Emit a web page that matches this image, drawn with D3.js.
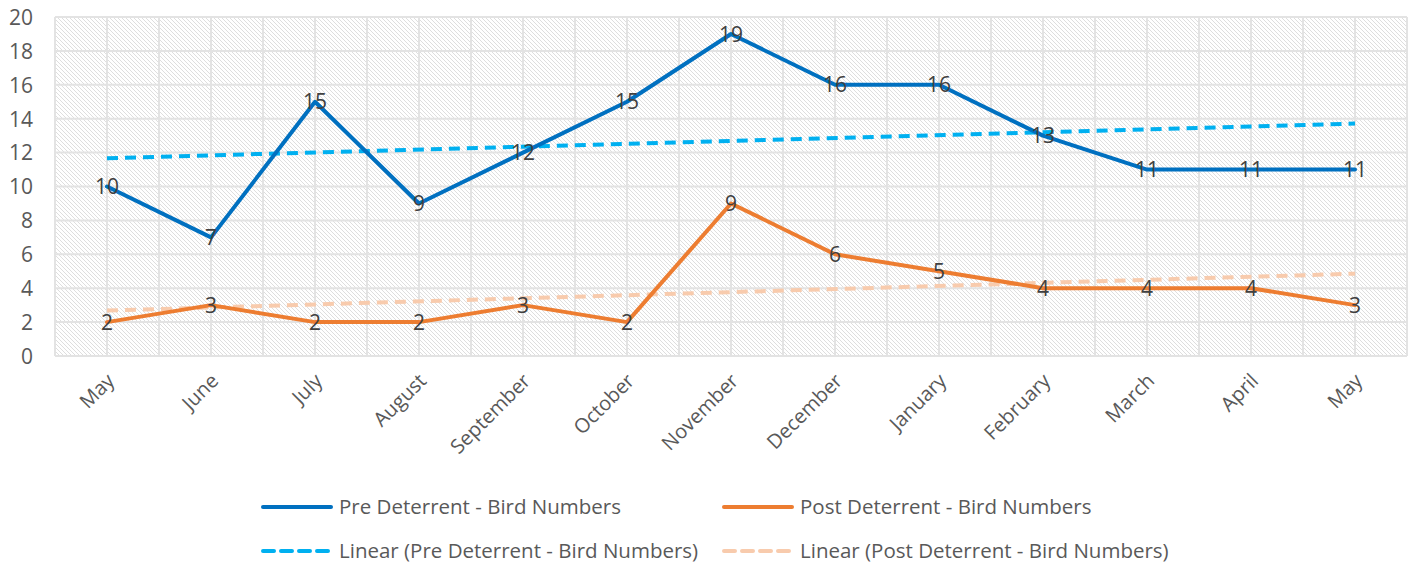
<!DOCTYPE html>
<html>
<head>
<meta charset="utf-8">
<script src="https://cdn.jsdelivr.net/npm/d3@7"></script>
<style>
  body { margin: 0; background: #fff; }
  svg text { font-family: "Open Sans", "Lato", sans-serif; }
</style>
</head>
<body>
<script>
var months = ['May', 'June', 'July', 'August', 'September', 'October', 'November',
  'December', 'January', 'February', 'March', 'April', 'May'];
var preValues = [10, 7, 15, 9, 12, 15, 19, 16, 16, 13, 11, 11, 11];
var postValues = [2, 3, 2, 2, 3, 2, 9, 6, 5, 4, 4, 4, 3];
var yTicks = [0, 2, 4, 6, 8, 10, 12, 14, 16, 18, 20];
var seriesNames = ['Pre Deterrent - Bird Numbers', 'Post Deterrent - Bird Numbers'];

var width = 1415, height = 567;
var plotLeft = 55, plotRight = 1407, plotTop = 17, plotBottom = 356;

var svg = d3.select('body').append('svg')
  .attr('width', width)
  .attr('height', height);

// hatch fill for the plot area
var pat = svg.append('defs').append('pattern')
  .attr('id', 'hatch')
  .attr('patternUnits', 'userSpaceOnUse')
  .attr('width', 4)
  .attr('height', 4);
pat.append('path')
  .attr('d', 'M0,0L4,4M-1,3L1,5M3,-1L5,1')
  .style('stroke', '#dedede')
  .style('stroke-width', 1);

var idx = d3.range(months.length);
var x = d3.scalePoint().domain(idx).range([plotLeft, plotRight]).padding(0.5);
var y = d3.scaleLinear().domain([0, 20]).range([plotBottom, plotTop]);

svg.append('rect')
  .attr('x', plotLeft).attr('y', plotTop)
  .attr('width', plotRight - plotLeft).attr('height', plotBottom - plotTop)
  .attr('fill', 'url(#hatch)');

// gridlines
var half = x.step() / 2;
svg.append('g').selectAll('line')
  .data(d3.range(months.length * 2 + 1))
  .enter().append('line')
  .attr('x1', function(d) { return plotLeft + d * half; })
  .attr('x2', function(d) { return plotLeft + d * half; })
  .attr('y1', plotTop).attr('y2', plotBottom)
  .style('stroke', '#e3e3e3')
  .style('stroke-width', 2);

svg.append('g').selectAll('line')
  .data(yTicks)
  .enter().append('line')
  .attr('x1', plotLeft).attr('x2', plotRight)
  .attr('y1', function(d) { return y(d); })
  .attr('y2', function(d) { return y(d); })
  .style('stroke', '#e3e3e3')
  .style('stroke-width', 2);

// y axis labels
var yAxis = svg.append('g')
  .attr('transform', 'translate(' + (plotLeft - 22) + ',0)')
  .call(d3.axisLeft(y).tickValues(yTicks).tickSize(0).tickPadding(0));
yAxis.select('.domain').remove();
yAxis.selectAll('text')
  .style('font-size', '21px')
  .style('fill', '#595959')
  .attr('dy', '0.35em');

// x axis labels
var xAxis = svg.append('g')
  .attr('transform', 'translate(0,' + plotBottom + ')')
  .call(d3.axisBottom(x).tickFormat(function(i) { return months[i]; }).tickSize(0));
xAxis.select('.domain').remove();
xAxis.selectAll('text')
  .style('font-size', '20px')
  .style('fill', '#595959')
  .style('text-anchor', 'end')
  .attr('dy', 0)
  .attr('transform', 'translate(6,24) rotate(-45)');

// trendlines (least squares, as Excel does)
function fitLine(vals) {
  var xs = vals.map(function(v, i) { return i + 1; });
  var mx = d3.mean(xs), my = d3.mean(vals);
  var sxy = d3.sum(vals, function(v, i) { return (xs[i] - mx) * (v - my); });
  var sxx = d3.sum(xs, function(v) { return (v - mx) * (v - mx); });
  var b = sxy / sxx, a = my - b * mx;
  return [0, vals.length - 1].map(function(i) { return [i, a + b * (i + 1)]; });
}

var line = d3.line()
  .x(function(d) { return x(d[0]); })
  .y(function(d) { return y(d[1]); });

var series = [
  { name: seriesNames[0], values: preValues, color: '#0070c0', trend: '#00b0f0' },
  { name: seriesNames[1], values: postValues, color: '#ed7d31', trend: '#f8cbad' }
];

series.slice().reverse().forEach(function(s) {
  svg.append('path')
    .datum(fitLine(s.values))
    .attr('d', line)
    .style('fill', 'none')
    .style('stroke', s.trend)
    .style('stroke-width', 4)
    .style('stroke-dasharray', '11,7');
});

series.slice().reverse().forEach(function(s) {
  svg.append('path')
    .datum(s.values.map(function(v, i) { return [i, v]; }))
    .attr('d', line)
    .style('fill', 'none')
    .style('stroke', s.color)
    .style('stroke-width', 4)
    .style('stroke-linejoin', 'round')
    .style('stroke-linecap', 'round');
});

series.forEach(function(s) {
  svg.append('g').selectAll('text')
    .data(s.values)
    .enter().append('text')
    .attr('x', function(d, i) { return x(i); })
    .attr('y', function(d) { return y(d); })
    .attr('dy', '0.36em')
    .style('text-anchor', 'middle')
    .style('font-size', '21px')
    .style('fill', '#404040')
    .text(function(d) { return d; });
});

// legend
var legendItems = [
  { label: seriesNames[0], color: '#0070c0', dash: null, x: 263, y: 507 },
  { label: seriesNames[1], color: '#ed7d31', dash: null, x: 724, y: 507 },
  { label: 'Linear (' + seriesNames[0] + ')', color: '#00b0f0', dash: '11,7', x: 263, y: 551 },
  { label: 'Linear (' + seriesNames[1] + ')', color: '#f8cbad', dash: '11,7', x: 724, y: 551 }
];

var leg = svg.append('g').selectAll('g.legend')
  .data(legendItems)
  .enter().append('g')
  .classed('legend', true)
  .attr('transform', function(d) { return 'translate(' + d.x + ',' + d.y + ')'; });

leg.append('line')
  .attr('x1', 0).attr('x2', 68)
  .style('stroke', function(d) { return d.color; })
  .style('stroke-width', 4)
  .style('stroke-linecap', 'round')
  .style('stroke-dasharray', function(d) { return d.dash; });

leg.append('text')
  .attr('x', 76)
  .attr('dy', '0.35em')
  .style('font-size', '20.5px')
  .style('fill', '#595959')
  .text(function(d) { return d.label; });
</script>
</body>
</html>
